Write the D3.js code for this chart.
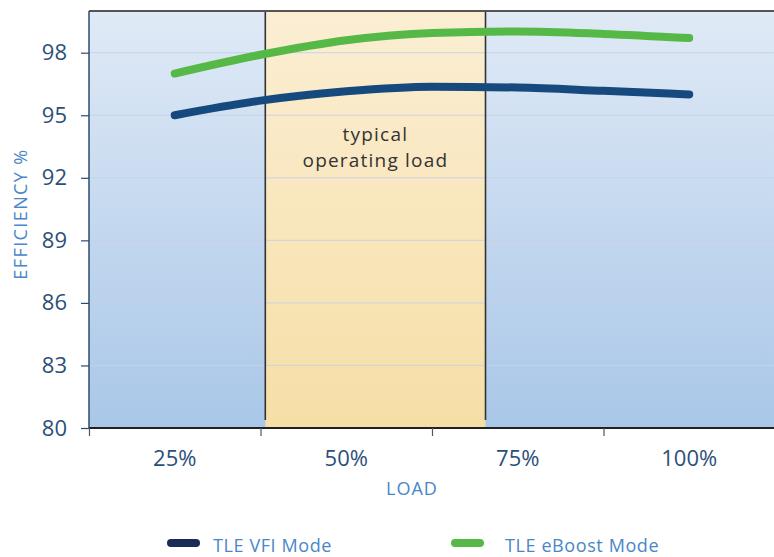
<!DOCTYPE html>
<html>
<head>
<meta charset="utf-8">
<script src="https://cdn.jsdelivr.net/npm/d3@7"></script>
<style>
html,body{margin:0;padding:0;background:#fff;}
svg{display:block;}
text{font-family:"Open Sans","Noto Sans",sans-serif;}
</style>
</head>
<body>
<svg id="chart" width="774" height="557"></svg>
<script>
const categories = ["25%", "50%", "75%", "100%"];
const categoryLoads = [25, 50, 75, 100];
const loads = [25, 37.5, 50, 62.5, 75, 87.5, 100];
const vfiValues = [95.0, 95.7, 96.15, 96.37, 96.33, 96.17, 96.0];
const eboostValues = [97.0, 97.9, 98.6, 98.95, 99.02, 98.9, 98.7];
const yTicks = [80, 83, 86, 89, 92, 95, 98];
const typicalRange = [38.2, 70.3];
const seriesNames = ["TLE VFI Mode", "TLE eBoost Mode"];

const svg = d3.select("#chart");
const L = 89, R = 775, T = 11, B = 428;

const x = d3.scaleLinear().domain([12.5, 112.5]).range([L, R]);
const y = d3.scaleLinear().domain([80, 100]).range([B, T]);

const defs = svg.append("defs");
const gBlue = defs.append("linearGradient").attr("id","bg").attr("x1",0).attr("y1",0).attr("x2",0).attr("y2",1);
gBlue.append("stop").attr("offset","0%").attr("stop-color","#e0eaf6");
gBlue.append("stop").attr("offset","100%").attr("stop-color","#a9c7e8");
const gYel = defs.append("linearGradient").attr("id","yb").attr("x1",0).attr("y1",0).attr("x2",0).attr("y2",1);
gYel.append("stop").attr("offset","0%").attr("stop-color","#fbeed3");
gYel.append("stop").attr("offset","100%").attr("stop-color","#f6dea6");

svg.append("rect").attr("x",L).attr("y",T).attr("width",R-L).attr("height",B-T).attr("fill","url(#bg)");
svg.append("rect").attr("x",x(typicalRange[0])).attr("y",T).attr("width",x(typicalRange[1])-x(typicalRange[0])).attr("height",B-T).attr("fill","url(#yb)");

// gridlines
svg.append("g").selectAll("line").data(yTicks.slice(1)).join("line")
  .attr("x1",L).attr("x2",R).attr("y1",d=>y(d)).attr("y2",d=>y(d))
  .attr("stroke","#c4d3e6").attr("stroke-width",1).attr("opacity",0.9);

// band boundary lines
svg.append("g").selectAll("line").data(typicalRange).join("line")
  .attr("x1",d=>x(d)).attr("x2",d=>x(d)).attr("y1",T).attr("y2",B-8)
  .attr("stroke","#333").attr("stroke-width",1.6);

const cx = (x(typicalRange[0])+x(typicalRange[1]))/2;
svg.append("text").attr("x",cx).attr("y",141)
  .attr("text-anchor","middle").attr("font-size",19).attr("letter-spacing",1.2).attr("fill","#333").text("typical");
svg.append("text").attr("x",cx).attr("y",167)
  .attr("text-anchor","middle").attr("font-size",19).attr("letter-spacing",1.2).attr("fill","#333").text("operating load");

// lines
const line = d3.line().x(d=>x(d[0])).y(d=>y(d[1])).curve(d3.curveMonotoneX);
svg.append("path").datum(loads.map((l,i)=>[l,vfiValues[i]])).attr("d",line)
  .attr("fill","none").attr("stroke","#164a7f").attr("stroke-width",8).attr("stroke-linecap","round");
svg.append("path").datum(loads.map((l,i)=>[l,eboostValues[i]])).attr("d",line)
  .attr("fill","none").attr("stroke","#56b947").attr("stroke-width",8).attr("stroke-linecap","round");

// top border
svg.append("line").attr("x1",L).attr("x2",R).attr("y1",T).attr("y2",T).attr("stroke","#555").attr("stroke-width",2);

// y axis
const yAxis = svg.append("g").attr("transform",`translate(${L},0)`)
  .call(d3.axisLeft(y).tickValues(yTicks).tickSize(8).tickPadding(14).tickFormat(d3.format("d")));
yAxis.select(".domain").attr("stroke","#2c4a6e").attr("stroke-width",1.5).attr("d",`M0,${T}V${B}`);
yAxis.selectAll(".tick line").attr("stroke","#2c4a6e").attr("stroke-width",1.2);
yAxis.selectAll(".tick text").attr("font-size",22).attr("fill","#2c4f7a").attr("font-family","'Open Sans',sans-serif");

// x axis
const xAxis = svg.append("g").attr("transform",`translate(0,${B})`)
  .call(d3.axisBottom(x).tickValues([12.5,37.5,62.5,87.5,112.5]).tickSize(8).tickFormat(""));
xAxis.select(".domain").attr("stroke","#222").attr("stroke-width",2).attr("d",`M${L},0H${R}`);
xAxis.selectAll(".tick line").attr("stroke","#555").attr("stroke-width",1.2);
svg.append("g").selectAll("text").data(categories).join("text")
  .attr("x",(d,i)=>x(categoryLoads[i])).attr("y",466)
  .attr("text-anchor","middle").attr("font-size",22).attr("fill","#2c4f7a").text(d=>d);

// axis titles
svg.append("text").attr("x",412).attr("y",495).attr("text-anchor","middle")
  .attr("font-size",18).attr("letter-spacing",1).attr("fill","#4a86c8").text("LOAD");
svg.append("text").attr("transform","translate(27,214) rotate(-90)").attr("text-anchor","middle")
  .attr("font-size",18).attr("letter-spacing",1.4).attr("fill","#4a86c8").text("EFFICIENCY %");

// legend
const legend = [{name:seriesNames[0], color:"#1b2b58", x:167, tx:213},{name:seriesNames[1], color:"#56b947", x:451, tx:505}];
const lg = svg.append("g").selectAll("g").data(legend).join("g");
lg.append("line").attr("x1",d=>d.x+4).attr("x2",d=>d.x+29).attr("y1",543).attr("y2",543)
  .attr("stroke",d=>d.color).attr("stroke-width",8).attr("stroke-linecap","round");
lg.append("text").attr("x",d=>d.tx).attr("y",552).attr("font-size",18).attr("letter-spacing",0.6).attr("fill","#4a86c8").text(d=>d.name);
</script>
</body>
</html>
